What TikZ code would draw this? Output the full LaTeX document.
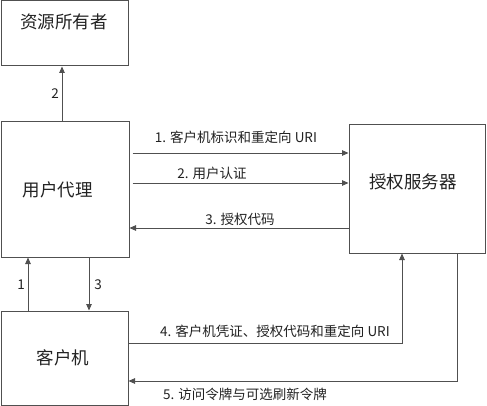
\documentclass[tikz,border=0pt]{standalone}
\usepackage{fontspec}
\setmainfont{Noto Sans CJK SC}
\usetikzlibrary{arrows.meta}
\definecolor{linegray}{HTML}{505050}
\definecolor{textgray}{HTML}{222222}
\begin{document}
\begin{tikzpicture}[x=1pt,y=-1pt,
  box/.style={draw=linegray, line width=1pt, inner sep=0pt, fill=white},
  boxtext/.style={font=\fontsize{17.5}{20}\selectfont, text=textgray, inner sep=0pt},
  flow/.style={draw=linegray, line width=0.9pt, -{Triangle[length=6.5pt,width=5.5pt]}},
  lbl/.style={font=\fontsize{13.5}{16}\selectfont, text=textgray, inner sep=0pt}]
\useasboundingbox[fill=white] (0,0) rectangle (487,406);
% boxes
\node[box, minimum width=127pt, minimum height=65pt] (ro) at (64.5,33.5) {};
\node[box, minimum width=128pt, minimum height=135pt] (ua) at (65,189.5) {};
\node[box, minimum width=136pt, minimum height=128pt] (as) at (417,189) {};
\node[box, minimum width=127pt, minimum height=94pt] (cl) at (64.5,358) {};
\node[boxtext] (roT) at (64,22) {资源所有者};
\node[boxtext] (uaT) at (58,190) {用户代理};
\node[boxtext] (asT) at (413,182) {授权服务器};
\node[boxtext] (clT) at (63,358) {客户机};
% guide coordinates
\coordinate (c1) at (28,0);
\coordinate (c2) at (62,0);
\coordinate (c3) at (89,0);
\coordinate (c4) at (402,0);
\coordinate (c5) at (457,0);
\coordinate (r1) at (0,153);
\coordinate (r2) at (0,183);
\coordinate (r3) at (0,228);
\coordinate (r4) at (0,343);
\coordinate (r5) at (0,381);
% connectors
\draw[flow] (ua.north -| c2) -- (ro.south -| c2);
\draw[flow] (cl.north -| c1) -- (ua.south -| c1);
\draw[flow] (ua.south -| c3) -- (cl.north -| c3);
\draw[flow] ([xshift=3pt]ua.east |- r1) -- (as.west |- r1);
\draw[flow] ([xshift=3pt]ua.east |- r2) -- (as.west |- r2);
\draw[flow] (as.west |- r3) -- (ua.east |- r3);
\draw[flow] (cl.east |- r4) -| (as.south -| c4);
\draw[flow] (as.south -| c5) |- (cl.east |- r5);
% labels
\node[lbl] (l2) at (55,94) {2};
\node[lbl] (l1) at (21,285) {1};
\node[lbl] (l3) at (98,285) {3};
\node[lbl] (f1) at (236,137) {1. 客户机标识和重定向 URI};
\node[lbl] (f2) at (212,173) {2. 用户认证};
\node[lbl] (f3) at (240,219) {3. 授权代码};
\node[lbl] (f4) at (275,331) {4. 客户机凭证、授权代码和重定向 URI};
\node[lbl] (f5) at (245,394) {5. 访问令牌与可选刷新令牌};
\end{tikzpicture}
\end{document}
